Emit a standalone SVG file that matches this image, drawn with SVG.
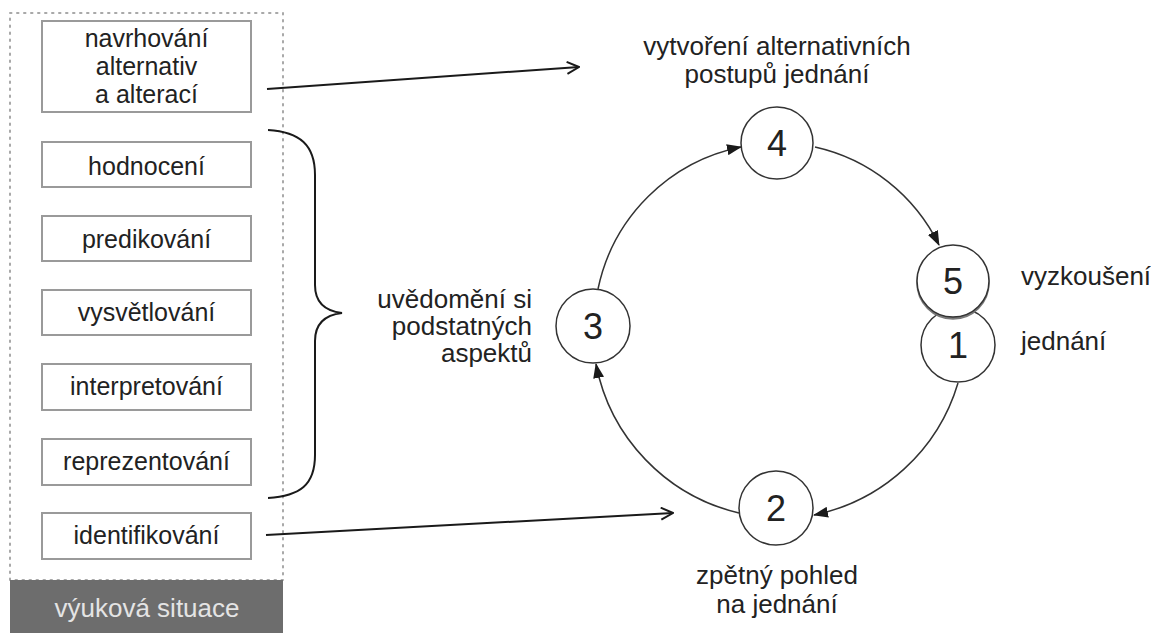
<svg xmlns="http://www.w3.org/2000/svg" width="1151" height="633" viewBox="0 0 1151 633">
<defs>
<marker id="tri" viewBox="0 0 15 11" refX="14" refY="5.5" markerWidth="15" markerHeight="11" markerUnits="userSpaceOnUse" orient="auto">
<path d="M0,0 L15,5.5 L0,11 Z" fill="#1a1a1a"/>
</marker>
<marker id="open" viewBox="0 0 14 14" refX="13" refY="7" markerWidth="14" markerHeight="14" markerUnits="userSpaceOnUse" orient="auto">
<path d="M1,1 L13,7 L1,13" fill="none" stroke="#1a1a1a" stroke-width="2"/>
</marker>
</defs>
<style>
text{font-family:"Liberation Sans",Arial,sans-serif;fill:#222}
.box{fill:#fff;stroke:#9a9a9a;stroke-width:2}
.bt{font-size:25px;text-anchor:middle}
.lbl{font-size:26px}
.node circle{fill:#fff;stroke:#333;stroke-width:1.5}
.num{font-size:36px;text-anchor:middle}
.arc{fill:none;stroke:#333;stroke-width:1.5}
.line{fill:none;stroke:#1a1a1a;stroke-width:2}
</style>
<rect width="1151" height="633" fill="#fff"/>
<g id="situation">
<rect x="10" y="13" width="273" height="567" fill="none" stroke="#a8a8a8" stroke-width="2" stroke-dasharray="1.5 5.5" stroke-linecap="round"/>
<rect x="10" y="580" width="273" height="53" fill="#6d6d6d"/>
<text x="147" y="617" class="lbl" style="text-anchor:middle;fill:#e4e4e4">výuková situace</text>
</g>
<g id="box-navrhovani">
<rect class="box" x="42" y="21" width="209" height="91"/>
<text class="bt" x="146.5" y="47">navrhování</text>
<text class="bt" x="146.5" y="75">alternativ</text>
<text class="bt" x="146.5" y="103">a alterací</text>
</g>
<g id="box-hodnoceni"><rect class="box" x="42" y="142" width="209" height="45"/><text class="bt" x="146.5" y="175">hodnocení</text></g>
<g id="box-predikovani"><rect class="box" x="42" y="216" width="209" height="45"/><text class="bt" x="146.5" y="248">predikování</text></g>
<g id="box-vysvetlovani"><rect class="box" x="42" y="290" width="209" height="45"/><text class="bt" x="146.5" y="321">vysvětlování</text></g>
<g id="box-interpretovani"><rect class="box" x="42" y="364" width="209" height="46"/><text class="bt" x="146.5" y="395">interpretování</text></g>
<g id="box-reprezentovani"><rect class="box" x="42" y="439" width="209" height="46"/><text class="bt" x="146.5" y="470">reprezentování</text></g>
<g id="box-identifikovani"><rect class="box" x="42" y="513" width="209" height="46"/><text class="bt" x="146.5" y="544">identifikování</text></g>

<g id="connectors">
<path id="brace" class="line" d="M268,130 C300,132 315,145 315,175 L315,285 C315,302 325,311 342,313 C325,315 315,324 315,341 L315,455 C315,485 300,496 268,498"/>
<line class="line" x1="267" y1="89" x2="579" y2="67" marker-end="url(#open)"/>
<line class="line" x1="266" y1="535" x2="673" y2="513" marker-end="url(#open)"/>
<path class="arc" d="M598,289 A183,183 0 0 1 741,147" marker-end="url(#tri)"/>
<path class="arc" d="M815,147 A182,182 0 0 1 939,245" marker-end="url(#tri)"/>
<path class="arc" d="M958,383 A190,190 0 0 1 814,515" marker-end="url(#tri)"/>
<path class="arc" d="M739,513 A190,190 0 0 1 596,364" marker-end="url(#tri)"/>
</g>

<g id="node-3" class="node"><circle cx="593" cy="326" r="37"/><text class="num" x="593" y="339">3</text></g>
<g id="node-4" class="node"><circle cx="777" cy="143" r="36"/><text class="num" x="777" y="156">4</text></g>
<g id="node-2" class="node"><circle cx="776" cy="508" r="37"/><text class="num" x="776" y="521">2</text></g>
<g id="node-1" class="node"><circle cx="958" cy="345" r="37"/><text class="num" x="958" y="358">1</text></g>
<g id="node-5" class="node"><circle cx="953" cy="283" r="36" style="fill:#777;stroke:#777"/><circle cx="953" cy="281" r="36"/><text class="num" x="953" y="294">5</text></g>

<g id="labels">
<text class="lbl" x="777" y="55" text-anchor="middle">vytvoření alternativních</text>
<text class="lbl" x="777" y="83" text-anchor="middle">postupů jednání</text>
<text class="lbl" x="532" y="308" text-anchor="end">uvědomění si</text>
<text class="lbl" x="532" y="335" text-anchor="end">podstatných</text>
<text class="lbl" x="532" y="362" text-anchor="end">aspektů</text>
<text class="lbl" x="1021" y="285">vyzkoušení</text>
<text class="lbl" x="1021" y="350">jednání</text>
<text class="lbl" x="777" y="584" text-anchor="middle">zpětný pohled</text>
<text class="lbl" x="777" y="613" text-anchor="middle">na jednání</text>
</g>
</svg>
